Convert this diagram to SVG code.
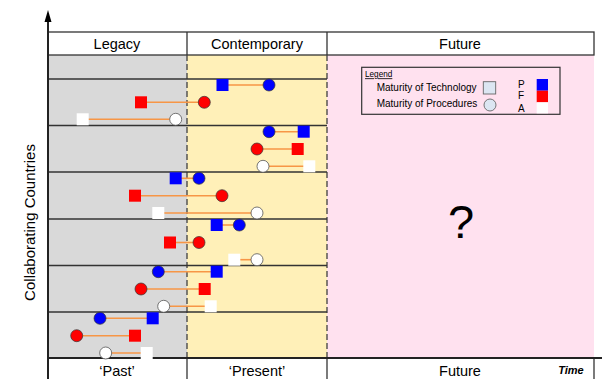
<svg xmlns="http://www.w3.org/2000/svg" width="602" height="379" viewBox="0 0 602 379">
<style>
  text { font-family: "Liberation Sans", Arial, sans-serif; fill: #000; }
  .hdr { font-size: 14.5px; text-anchor: middle; }
  .row { stroke: #333; stroke-width: 1.3; }
  .div { stroke: #333; stroke-width: 1.3; }
  .dash { stroke: #404040; stroke-width: 1.3; stroke-dasharray: 6 3; }
  .con { stroke: #F79646; stroke-width: 1.6; }
  .sqB { fill: #0000FF; }
  .sqR { fill: #FF0000; }
  .sqW { fill: #FFFFFF; }
  .ciB { fill: #0000FF; stroke: #333; stroke-width: 0.7; }
  .ciR { fill: #FF0000; stroke: #333; stroke-width: 0.7; }
  .ciW { fill: #FFFFFF; stroke: #555; stroke-width: 0.8; }
  .lg { font-size: 10px; }
</style>
<defs>
  <rect id="sq" x="-6" y="-6" width="12" height="12"/>
</defs>
<rect width="602" height="379" fill="#FFFFFF"/>
<g id="background">
  <rect x="48" y="55" width="139" height="303" fill="#D9D9D9"/>
  <rect x="187" y="55" width="140" height="303" fill="#FFF0B8"/>
  <rect x="327" y="55" width="267" height="303" fill="#FFE1EF"/>
  <rect x="48" y="32" width="546" height="23" fill="#FFFFFF" stroke="#333" stroke-width="1.3"/>
  <line class="div" x1="187" y1="32" x2="187" y2="55"/>
  <line class="div" x1="327" y1="32" x2="327" y2="55"/>
  <line class="dash" x1="187" y1="55" x2="187" y2="358"/>
  <line class="dash" x1="327" y1="55" x2="327" y2="358"/>
  <line class="row" x1="48" y1="79" x2="327" y2="79"/>
  <line class="row" x1="48" y1="125.5" x2="327" y2="125.5"/>
  <line class="row" x1="48" y1="172" x2="327" y2="172"/>
  <line class="row" x1="48" y1="219" x2="327" y2="219"/>
  <line class="row" x1="48" y1="265.5" x2="327" y2="265.5"/>
  <line class="row" x1="48" y1="312" x2="327" y2="312"/>
  <line class="div" x1="187" y1="358" x2="187" y2="379"/>
  <line class="div" x1="327" y1="358" x2="327" y2="379"/>
  <line class="div" x1="594" y1="358" x2="594" y2="379"/>
  <line x1="48" y1="358" x2="602" y2="358" stroke="#222" stroke-width="2"/>
  <line x1="48" y1="20" x2="48" y2="379" stroke="#222" stroke-width="2"/>
  <polygon points="48,10 44.5,22 51.5,22" fill="#000"/>
</g>
<g id="labels">
  <text class="hdr" x="117" y="49">Legacy</text>
  <text class="hdr" x="257" y="49">Contemporary</text>
  <text class="hdr" x="460" y="49">Future</text>
  <text class="hdr" x="117" y="375.5">‘Past’</text>
  <text class="hdr" x="257" y="375.5">‘Present’</text>
  <text class="hdr" x="460" y="375.5">Future</text>
  <text x="571" y="373.5" font-size="11" font-weight="bold" font-style="italic" text-anchor="middle">Time</text>
  <text x="34.5" y="222.5" font-size="15" text-anchor="middle" transform="rotate(-90 34.5 222.5)">Collaborating Countries</text>
  <text x="461" y="238" font-size="47" text-anchor="middle">?</text>
</g>
<g id="connectors">
  <line class="con" x1="222.5" y1="85" x2="269" y2="85"/>
  <line class="con" x1="141" y1="102.3" x2="204.3" y2="102.3"/>
  <line class="con" x1="82.7" y1="119.3" x2="175.7" y2="119.3"/>
  <line class="con" x1="269" y1="131.7" x2="303.7" y2="131.7"/>
  <line class="con" x1="257" y1="149" x2="297.7" y2="149"/>
  <line class="con" x1="263" y1="166.3" x2="309.3" y2="166.3"/>
  <line class="con" x1="175.7" y1="178.3" x2="199" y2="178.3"/>
  <line class="con" x1="135" y1="195.7" x2="222" y2="195.7"/>
  <line class="con" x1="158.3" y1="213" x2="257" y2="213"/>
  <line class="con" x1="216.7" y1="225" x2="239.3" y2="225"/>
  <line class="con" x1="170" y1="242.5" x2="199" y2="242.5"/>
  <line class="con" x1="234.3" y1="259.7" x2="257" y2="259.7"/>
  <line class="con" x1="158.3" y1="271.7" x2="216.7" y2="271.7"/>
  <line class="con" x1="141" y1="289" x2="204.7" y2="289"/>
  <line class="con" x1="163.7" y1="306.3" x2="205" y2="306.3"/>
  <line class="con" x1="100" y1="318.3" x2="152.7" y2="318.3"/>
  <line class="con" x1="76.7" y1="335.7" x2="135" y2="335.7"/>
  <line class="con" x1="105.7" y1="353" x2="146.7" y2="353"/>
</g>
<g id="country1">
  <use href="#sq" class="sqB" x="222.5" y="85"/><circle class="ciB" cx="269" cy="85" r="6"/>
  <use href="#sq" class="sqR" x="141" y="102.3"/><circle class="ciR" cx="204.3" cy="102.3" r="6"/>
  <use href="#sq" class="sqW" x="82.7" y="119.3"/><circle class="ciW" cx="175.7" cy="119.3" r="6"/>
</g>
<g id="country2">
  <use href="#sq" class="sqB" x="303.7" y="131.7"/><circle class="ciB" cx="269" cy="131.7" r="6"/>
  <use href="#sq" class="sqR" x="297.7" y="149"/><circle class="ciR" cx="257" cy="149" r="6"/>
  <use href="#sq" class="sqW" x="309.3" y="166.3"/><circle class="ciW" cx="263" cy="166.3" r="6"/>
</g>
<g id="country3">
  <use href="#sq" class="sqB" x="175.7" y="178.3"/><circle class="ciB" cx="199" cy="178.3" r="6"/>
  <use href="#sq" class="sqR" x="135" y="195.7"/><circle class="ciR" cx="222" cy="195.7" r="6"/>
  <use href="#sq" class="sqW" x="158.3" y="213"/><circle class="ciW" cx="257" cy="213" r="6"/>
</g>
<g id="country4">
  <use href="#sq" class="sqB" x="216.7" y="225"/><circle class="ciB" cx="239.3" cy="225" r="6"/>
  <use href="#sq" class="sqR" x="170" y="242.5"/><circle class="ciR" cx="199" cy="242.5" r="6"/>
  <use href="#sq" class="sqW" x="234.3" y="259.7"/><circle class="ciW" cx="257" cy="259.7" r="6"/>
</g>
<g id="country5">
  <use href="#sq" class="sqB" x="216.7" y="271.7"/><circle class="ciB" cx="158.3" cy="271.7" r="6"/>
  <use href="#sq" class="sqR" x="204.7" y="289"/><circle class="ciR" cx="141" cy="289" r="6"/>
  <use href="#sq" class="sqW" x="210.7" y="306.3"/><circle class="ciW" cx="163.7" cy="306.3" r="6"/>
</g>
<g id="country6">
  <use href="#sq" class="sqB" x="152.7" y="318.3"/><circle class="ciB" cx="100" cy="318.3" r="6"/>
  <use href="#sq" class="sqR" x="135" y="335.7"/><circle class="ciR" cx="76.7" cy="335.7" r="6"/>
  <use href="#sq" class="sqW" x="146.7" y="353"/><circle class="ciW" cx="105.7" cy="353" r="6"/>
</g>
<g id="legend">
  <rect x="361.7" y="67.3" width="198.3" height="47" fill="#FFE1EF" stroke="#333" stroke-width="1.2"/>
  <text x="365" y="77.3" font-size="8.2" text-decoration="underline">Legend</text>
  <text class="lg" x="376.7" y="91">Maturity of Technology</text>
  <text class="lg" x="376.7" y="107">Maturity of Procedures</text>
  <rect x="483.3" y="81.7" width="12.4" height="12.3" fill="#DCE6F2" stroke="#666" stroke-width="0.9"/>
  <circle cx="490" cy="105" r="6" fill="#DCE6F2" stroke="#666" stroke-width="0.9"/>
  <text class="lg" x="518" y="88">P</text>
  <text class="lg" x="518" y="98.5">F</text>
  <text class="lg" x="518" y="112">A</text>
  <rect x="536.7" y="79" width="11.3" height="11.7" fill="#0000FF"/>
  <rect x="536.7" y="90.7" width="11.3" height="11.6" fill="#FF0000"/>
  <rect x="536.7" y="102.3" width="11.3" height="11" fill="#FFFFFF"/>
</g>
</svg>
